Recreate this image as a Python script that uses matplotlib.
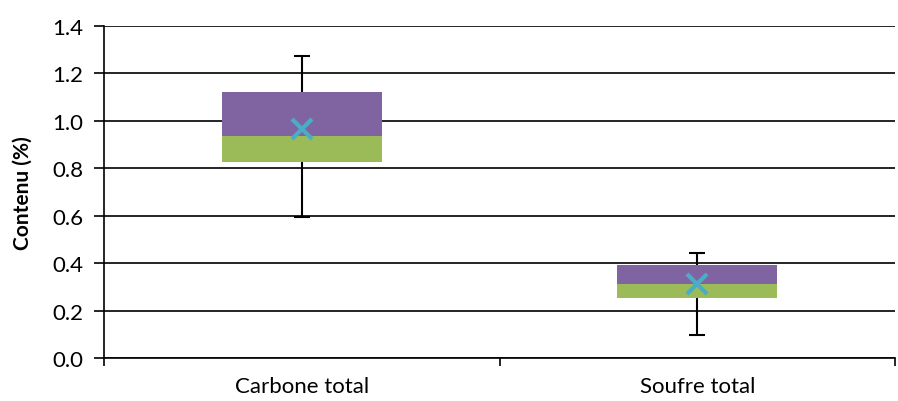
import matplotlib.pyplot as plt
import numpy as np

# valeurs
categories = ['Carbone total', 'Soufre total']
val_min = [0.595, 0.095]
q1 = [0.826, 0.252]
mediane = [0.937, 0.312]
q3 = [1.122, 0.392]
val_max = [1.274, 0.443]
moyenne = [0.966, 0.312]

plt.rcParams['font.family'] = ['Lato', 'DejaVu Sans']
plt.rcParams['font.size'] = 16

x = np.arange(len(categories))
q1 = np.array(q1)
mediane = np.array(mediane)
q3 = np.array(q3)

fig = plt.figure(figsize=(8.98, 4.02), dpi=100)
ax = fig.add_axes([0.1158, 0.107, 0.881, 0.826])

# moustaches (derrière les boîtes) + embouts
ax.vlines(x, val_min, val_max, colors='black', linewidth=1.5, zorder=2)
ax.plot(x, val_max, linestyle='none', marker='_', markersize=12, markeredgewidth=1.5,
        color='black', zorder=2)
ax.plot(x, val_min, linestyle='none', marker='_', markersize=12, markeredgewidth=1.5,
        color='black', zorder=2)

w = 0.405
ax.bar(x, mediane - q1, w, bottom=q1, color='#9BBB59', linewidth=0, zorder=3)
ax.bar(x, q3 - mediane, w, bottom=mediane, color='#8064A2', linewidth=0, zorder=3)
ax.plot(x, moyenne, linestyle='none', marker='x', markersize=15, markeredgewidth=3,
        color='#4BACC6', zorder=4)

ax.set_xlim(-0.5, 1.5)
ax.set_ylim(0, 1.4)
ax.set_yticks(np.arange(0, 1.41, 0.2))
ax.set_yticklabels(['%.1f' % v for v in np.arange(0, 1.41, 0.2)])
ax.set_xticks(x)
ax.set_xticklabels(categories)
ax.set_xticks([-0.5, 0.5, 1.5], minor=True)
ax.tick_params(axis='x', which='major', length=0, pad=13)
ax.tick_params(axis='x', which='minor', length=6, width=1.2)
ax.tick_params(axis='y', length=7, width=1.2, pad=8)
ax.yaxis.grid(True, color='black', linewidth=1.2, zorder=1)
ax.set_axisbelow(True)
for s in ['top', 'right']:
    ax.spines[s].set_visible(False)
ax.spines['left'].set_linewidth(1.2)
ax.spines['bottom'].set_linewidth(1.2)
ax.set_ylabel('Contenu (%)', fontweight='bold', fontsize=15, labelpad=14)

plt.savefig('out.png', dpi=100)
